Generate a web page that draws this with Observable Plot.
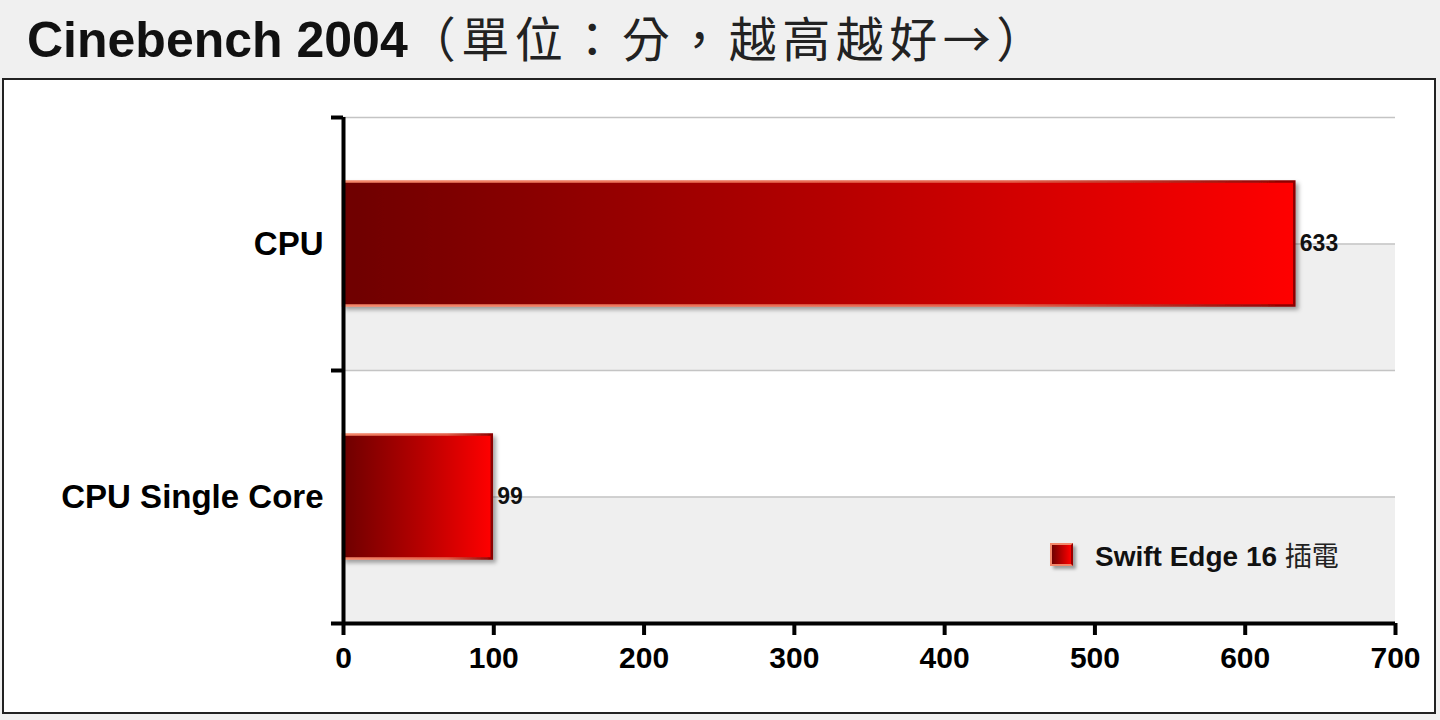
<!DOCTYPE html>
<html><head><meta charset="utf-8">
<script src="https://cdn.jsdelivr.net/npm/d3@7"></script>
<script src="https://cdn.jsdelivr.net/npm/@observablehq/plot@0.6"></script>
<style>
html,body{margin:0;padding:0}
body{background:#f0f0f0;width:1440px;height:720px;position:relative;overflow:hidden;font-family:"Liberation Sans",Arial,sans-serif;color:#111}
#title{position:absolute;left:27px;top:12px;white-space:nowrap;display:flex;align-items:baseline;line-height:1}
#title .en{display:inline-block;font-family:"Liberation Sans",Arial,sans-serif;font-weight:bold;font-size:50px;line-height:1}
#title .zh{display:inline-block;font-family:"Noto Sans CJK TC",sans-serif;font-weight:400;font-size:48px;color:#222;line-height:1;letter-spacing:5.5px}
#box{position:absolute;left:2px;top:78px;width:1430px;height:632px;border:2px solid #222;background:#fff}
#box svg{position:absolute;left:0;top:0}
#legend{position:absolute;left:1046px;top:455px;display:flex;align-items:center;white-space:nowrap}
#legend .sw{width:19px;height:19px;border:2px solid #f4876a;border-right-color:#900;background:linear-gradient(to right,#700000,#ff0000);box-shadow:3px 3px 3px rgba(0,0,0,0.35);margin-right:22px}
#legend .lab{font-weight:bold;font-size:28px;color:#111}
#legend .lab .zh{font-family:"Noto Sans CJK TC",sans-serif;font-weight:400;font-size:27px;color:#222}
</style>
</head><body>
<div id="title"><span class="en">Cinebench 2004</span><span class="zh">（單位：分，越高越好→）</span></div>
<div id="box"></div>
<script>
const categories = ["CPU", "CPU Single Core"];
const scores = [633, 99];
const xTicks = [0, 100, 200, 300, 400, 500, 600, 700];
const seriesName = "Swift Edge 16";
const seriesSuffix = "插電";

const data = categories.map((c, i) => ({category: c, score: scores[i]}));

const W = 1430, H = 632, mL = 339, mR = 39, mT = 37, mB = 89;
const bw = (H - mT - mB) / categories.length;
const barH = 124;
const inset = (bw - barH) / 2;
const xMin = xTicks[0], xMax = xTicks[xTicks.length - 1];
const grid = "#c4c4c4";

const plot = Plot.plot({
  width: W, height: H,
  marginLeft: mL, marginRight: mR, marginTop: mT, marginBottom: mB,
  style: {background: "transparent", fontFamily: "Liberation Sans, Arial, sans-serif", color: "#000", overflow: "visible"},
  x: {domain: [xMin, xMax]},
  y: {domain: categories, padding: 0},
  marks: [
    Plot.barX(categories, {y: d => d, x1: xMin, x2: xMax, insetTop: bw / 2, fill: "#efefef"}),
    Plot.ruleY(categories, {y: d => d, x1: xMin, x2: xMax, stroke: grid, strokeWidth: 1.5}),
    Plot.ruleY(categories, {y: d => d, dy: -bw / 2, x1: xMin, x2: xMax, stroke: grid, strokeWidth: 1.5}),
    Plot.barX(data, {y: "category", x: "score", insetTop: inset, insetBottom: inset, fill: "url(#barGrad)", stroke: "url(#barStroke)", strokeWidth: 2.5}),
    Plot.text(data, {y: "category", x: "score", text: d => String(d.score), textAnchor: "start", dx: 5, fontSize: 23, fontWeight: "bold", fill: "#111"}),
    Plot.ruleY(categories, {y: d => d, dy: -bw / 2, x1: xMin - 8, x2: xMin, stroke: "#000", strokeWidth: 4}),
    Plot.ruleY(categories.slice(-1), {y: d => d, dy: bw / 2, x1: xMin - 8, x2: xMax, stroke: "#000", strokeWidth: 4}),
    Plot.ruleX([xMin], {stroke: "#000", strokeWidth: 4}),
    Plot.axisX({ticks: xTicks, tickSize: 12, tickPadding: 11, strokeWidth: 4, fontSize: 30, fontWeight: "bold", label: null, tickFormat: d => String(d)}),
    Plot.axisY({tickSize: 0, tickPadding: 20, fontSize: 33, fontWeight: "bold", label: null})
  ]
});

const svg = d3.select(plot);
const defs = svg.insert("defs", ":first-child");
const g1 = defs.append("linearGradient").attr("id", "barGrad").attr("x1", 0).attr("x2", 1).attr("y1", 0).attr("y2", 0);
g1.append("stop").attr("offset", "0%").attr("stop-color", "#6e0000");
g1.append("stop").attr("offset", "50%").attr("stop-color", "#b30000");
g1.append("stop").attr("offset", "100%").attr("stop-color", "#ff0000");
const g2 = defs.append("linearGradient").attr("id", "barStroke").attr("x1", 0).attr("x2", 1).attr("y1", 0).attr("y2", 0);
g2.append("stop").attr("offset", "0%").attr("stop-color", "#f4876a");
g2.append("stop").attr("offset", "70%").attr("stop-color", "#e4604a");
g2.append("stop").attr("offset", "100%").attr("stop-color", "#8a0000");
const f = defs.append("filter").attr("id", "shadow").attr("x", "-10%").attr("y", "-10%").attr("width", "130%").attr("height", "140%");
f.append("feDropShadow").attr("dx", 3).attr("dy", 3).attr("stdDeviation", 2).attr("flood-color", "#000").attr("flood-opacity", 0.35);
svg.selectAll('g[fill="url(#barGrad)"]').attr("filter", "url(#shadow)");

document.getElementById("box").appendChild(plot);

const legend = document.createElement("div");
legend.id = "legend";
legend.innerHTML = `<div class="sw"></div><div class="lab">${seriesName} <span class="zh">${seriesSuffix}</span></div>`;
document.getElementById("box").appendChild(legend);
</script>
</body></html>
